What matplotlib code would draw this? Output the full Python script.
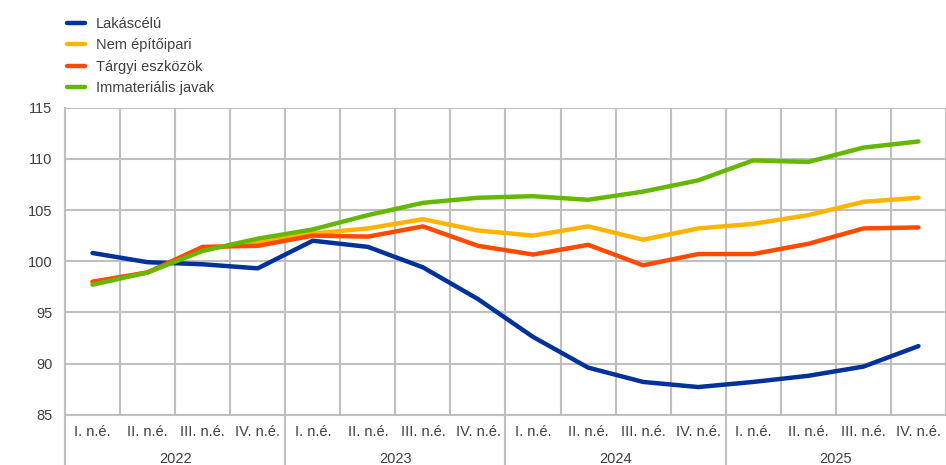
import matplotlib.pyplot as plt
import matplotlib.transforms as mtransforms
import numpy as np

plt.rcParams['font.family'] = ['Liberation Sans', 'DejaVu Sans']

years = ['2022', '2023', '2024', '2025']
quarters = ['I. n.é.', 'II. n.é.', 'III. n.é.', 'IV. n.é.']

lakascelu = [100.8, 99.9, 99.7, 99.3, 102.0, 101.4, 99.4, 96.3,
             92.6, 89.6, 88.2, 87.7, 88.2, 88.8, 89.7, 91.7]
nem_epitoipari = [97.9, 98.9, 101.2, 101.8, 102.7, 103.2, 104.1, 103.0,
                  102.5, 103.4, 102.1, 103.2, 103.65, 104.5, 105.8, 106.2]
targyi = [98.0, 98.9, 101.4, 101.5, 102.5, 102.4, 103.4, 101.5,
          100.65, 101.6, 99.6, 100.7, 100.7, 101.7, 103.2, 103.3]
immaterialis = [97.7, 98.9, 101.0, 102.2, 103.1, 104.5, 105.7, 106.2,
                106.35, 106.0, 106.8, 107.9, 109.85, 109.7, 111.1, 111.7]

series = [
    ('Lakáscélú', lakascelu, '#003299'),
    ('Nem építőipari', nem_epitoipari, '#FFB400'),
    ('Tárgyi eszközök', targyi, '#FF4B00'),
    ('Immateriális javak', immaterialis, '#65B800'),
]

grid_color = '#BFBFBF'
text_color = '#404040'
fs = 10.5

fig = plt.figure(figsize=(9.46, 4.65), dpi=100)
ax = fig.add_axes([0.0687, 0.1082, 0.9313, 0.6602])

x = np.arange(len(years) * len(quarters))
handles = []
for name, values, color in series:
    h, = ax.plot(x, values, color=color, lw=3.2, label=name,
                 solid_joinstyle='round', solid_capstyle='round', zorder=3)
    handles.append(h)

ax.set_xlim(-0.5, 15.5)
ax.set_ylim(85, 115)
ax.set_yticks(np.arange(85, 116, 5))
ax.set_xticks(np.arange(-0.5, 16, 1))
ax.set_xticklabels([])
ax.grid(True, color=grid_color, lw=1.5, zorder=0)
ax.tick_params(length=0)
ax.tick_params(axis='y', labelsize=fs, labelcolor=text_color, pad=9)
for side in ['top', 'right']:
    ax.spines[side].set_visible(False)
for side in ['left', 'bottom']:
    ax.spines[side].set_color(grid_color)
    ax.spines[side].set_linewidth(1.5)

trans = mtransforms.blended_transform_factory(ax.transData, ax.transAxes)
for i in x:
    ax.text(i, -0.058, quarters[i % 4], transform=trans, ha='center',
            va='center', fontsize=fs, color=text_color)
for j, year in enumerate(years):
    ax.text(j * 4 + 1.5, -0.144, year, transform=trans, ha='center',
            va='center', fontsize=fs, color=text_color)
for b in [-0.5, 3.5, 7.5, 11.5]:
    ax.plot([b, b], [0, -0.2], transform=trans, color=grid_color, lw=1.5,
            clip_on=False)

fig.legend(handles=handles, loc='upper left', bbox_to_anchor=(0.06, 0.985),
           frameon=False, fontsize=fs, handlelength=1.25, handletextpad=0.75,
           labelspacing=0.5, borderaxespad=0.3, labelcolor=text_color)

fig.savefig('out.png', dpi=100)
